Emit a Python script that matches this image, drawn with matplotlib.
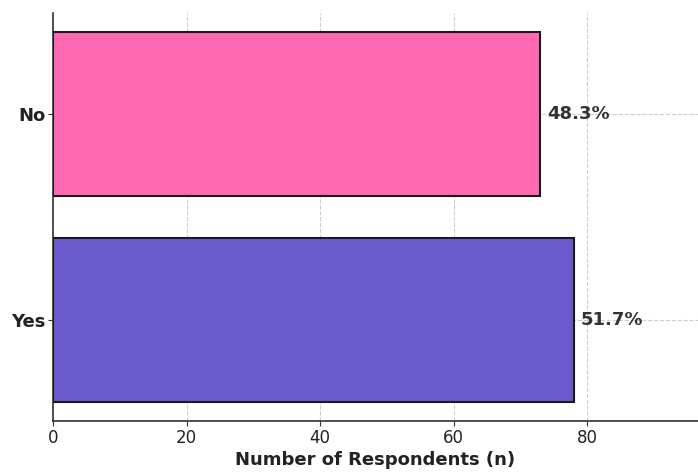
import matplotlib
matplotlib.use("Agg")
import matplotlib.pyplot as plt

categories = ["Yes", "No"]
counts = [78, 73]
percent_labels = ["51.7%", "48.3%"]
colors = ["#6A5ACD", "#FF69B4"]

fig = plt.figure(figsize=(6.98, 4.72), dpi=100)
ax = fig.add_axes([53/698, 51/472, (698-53)/698, (421-13)/472])

ax.barh(categories, counts, color=colors, edgecolor="#1a1a1a", linewidth=1.5, height=0.8, zorder=3)
for i, (c, lab) in enumerate(zip(counts, percent_labels)):
    ax.text(c + 1, i, lab, va="center", ha="left", fontsize=13, fontweight="bold", color="#333333", zorder=4)

ax.set_xlim(0, 96.6)
ax.set_xticks([0, 20, 40, 60, 80])
ax.grid(True, linestyle="--", color="#cccccc", linewidth=0.8, zorder=0)
ax.set_axisbelow(True)
for s in ["top", "right"]:
    ax.spines[s].set_visible(False)
for s in ["left", "bottom"]:
    ax.spines[s].set_color("#333333")
    ax.spines[s].set_linewidth(1.2)
ax.tick_params(axis="x", labelsize=12, colors="#333333", labelcolor="#222222", pad=2)
ax.tick_params(axis="y", labelsize=13, colors="#333333", labelcolor="#222222", pad=2)
for t in ax.get_yticklabels():
    t.set_fontweight("bold")
ax.set_xlabel("Number of Respondents (n)", fontsize=13, fontweight="bold", color="#222222", labelpad=3)

fig.savefig("out.png", dpi=100)
